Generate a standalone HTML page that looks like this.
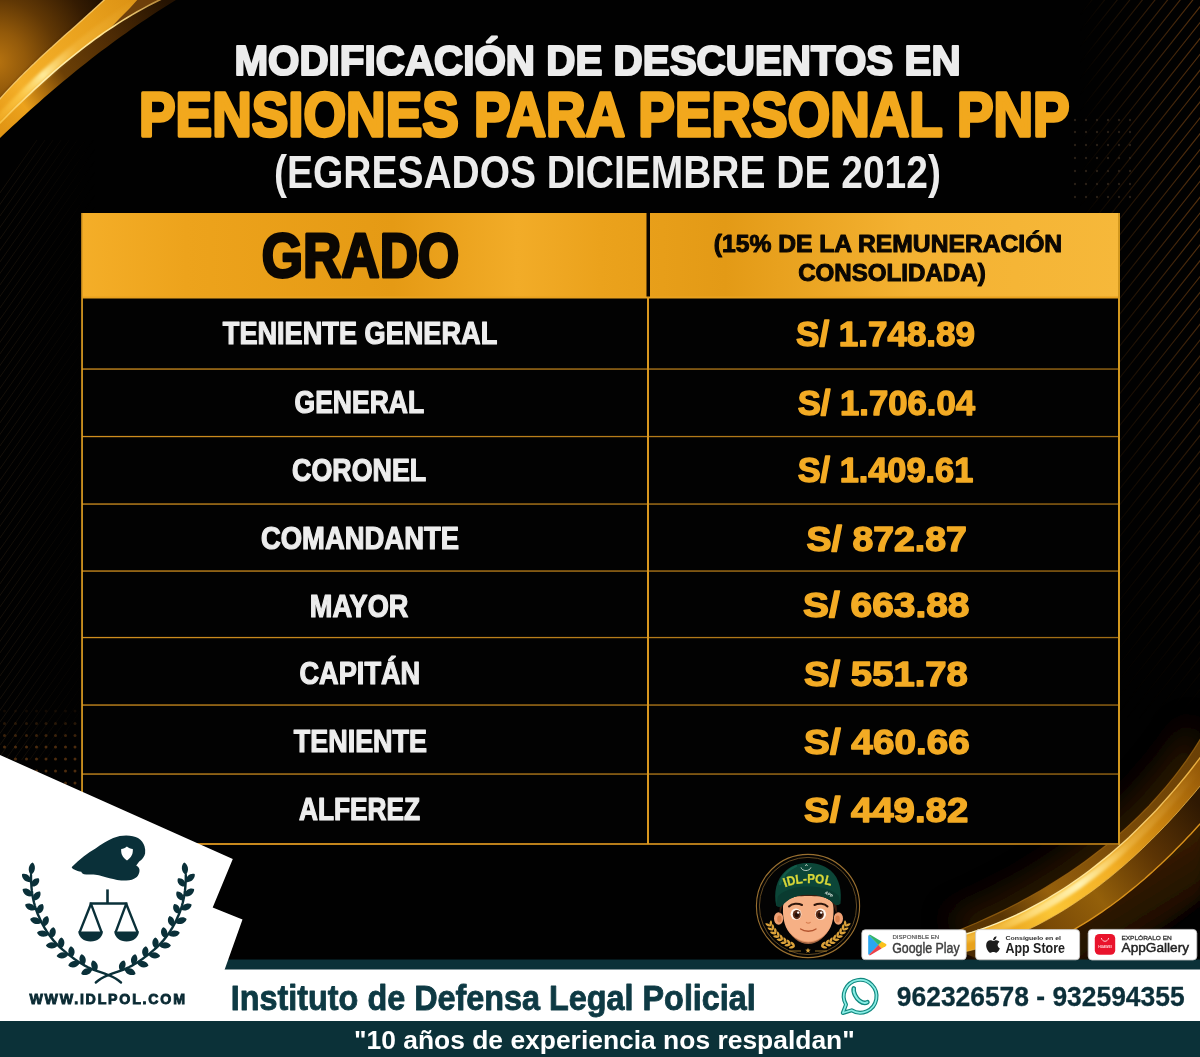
<!DOCTYPE html>
<html lang="es">
<head>
<meta charset="utf-8">
<title>Modificación de descuentos en pensiones para personal PNP</title>
<style>
html,body{margin:0;padding:0;background:#000;}
body{width:1200px;height:1057px;overflow:hidden;font-family:"Liberation Sans",sans-serif;}
svg{display:block;}
text{font-family:"Liberation Sans",sans-serif;}
.b{font-weight:bold;}
</style>
</head>
<body>
<svg width="1200" height="1057" viewBox="0 0 1200 1057">
<defs>
<linearGradient id="gtr" x1="1080" y1="0" x2="1200" y2="0" gradientUnits="userSpaceOnUse"><stop offset="0" stop-color="#000"/><stop offset="1" stop-color="#fff"/></linearGradient>
<linearGradient id="gtrv" x1="0" y1="250" x2="0" y2="720" gradientUnits="userSpaceOnUse"><stop offset="0" stop-color="#000" stop-opacity="0"/><stop offset="1" stop-color="#000" stop-opacity="1"/></linearGradient>
<mask id="mtr" maskUnits="userSpaceOnUse" x="1000" y="0" width="200" height="730"><rect x="1000" y="0" width="200" height="730" fill="url(#gtr)"/><rect x="1000" y="0" width="200" height="730" fill="url(#gtrv)"/></mask>
<linearGradient id="glf" x1="0" y1="0" x2="95" y2="0" gradientUnits="userSpaceOnUse"><stop offset="0" stop-color="#fff"/><stop offset="1" stop-color="#000"/></linearGradient>
<mask id="mlf" maskUnits="userSpaceOnUse" x="0" y="140" width="100" height="620"><rect x="0" y="140" width="100" height="620" fill="url(#glf)"/></mask>
<radialGradient id="tlc" cx="-5" cy="62" r="125" gradientUnits="userSpaceOnUse">
<stop offset="0" stop-color="#b87410"/><stop offset="0.25" stop-color="#92590a"/><stop offset="0.5" stop-color="#613805"/><stop offset="0.8" stop-color="#341b02"/><stop offset="1" stop-color="#1e0f01"/>
</radialGradient>
<linearGradient id="tlr" x1="150" y1="0" x2="0" y2="120" gradientUnits="userSpaceOnUse">
<stop offset="0" stop-color="#d98f12"/><stop offset="0.3" stop-color="#e79f1c"/><stop offset="0.6" stop-color="#f0aa24"/><stop offset="0.8" stop-color="#f4b02a"/><stop offset="1" stop-color="#e89c18"/>
</linearGradient>
<linearGradient id="tlhi" x1="150" y1="0" x2="0" y2="120" gradientUnits="userSpaceOnUse">
<stop offset="0" stop-color="#ffd870" stop-opacity="0"/><stop offset="0.45" stop-color="#ffd870" stop-opacity="0.2"/><stop offset="0.68" stop-color="#ffeea0" stop-opacity="0.95"/><stop offset="0.85" stop-color="#ffd050" stop-opacity="0.6"/><stop offset="1" stop-color="#ffc840" stop-opacity="0.3"/>
</linearGradient>
<linearGradient id="tlline" x1="160" y1="0" x2="0" y2="125" gradientUnits="userSpaceOnUse">
<stop offset="0" stop-color="#b88a3a"/><stop offset="0.25" stop-color="#ffe28c"/><stop offset="0.7" stop-color="#fff0b0"/><stop offset="1" stop-color="#f8c040"/>
</linearGradient>
<linearGradient id="tlband2" x1="170" y1="5" x2="0" y2="130" gradientUnits="userSpaceOnUse">
<stop offset="0" stop-color="#241201"/><stop offset="0.3" stop-color="#4c2a04"/><stop offset="0.6" stop-color="#6c4006"/><stop offset="0.74" stop-color="#b8760f"/><stop offset="0.84" stop-color="#eca21c"/><stop offset="1" stop-color="#e09414"/>
</linearGradient>
<linearGradient id="brmain" x1="1200" y1="770" x2="1000" y2="930" gradientUnits="userSpaceOnUse">
<stop offset="0" stop-color="#965a08"/><stop offset="0.25" stop-color="#c9820f"/><stop offset="0.5" stop-color="#f2ae24"/><stop offset="0.8" stop-color="#fbc636"/><stop offset="1" stop-color="#e8a21c"/>
</linearGradient>
<linearGradient id="brhi" x1="1200" y1="770" x2="1000" y2="930" gradientUnits="userSpaceOnUse">
<stop offset="0" stop-color="#ffe08a" stop-opacity="0"/><stop offset="0.4" stop-color="#ffe48e" stop-opacity="0.25"/><stop offset="0.65" stop-color="#fff3b4" stop-opacity="1"/><stop offset="0.85" stop-color="#ffe48e" stop-opacity="0.8"/><stop offset="1" stop-color="#ffd866" stop-opacity="0.4"/>
</linearGradient>
<linearGradient id="brline" x1="1200" y1="770" x2="1000" y2="930" gradientUnits="userSpaceOnUse">
<stop offset="0" stop-color="#e9ae3e"/><stop offset="0.5" stop-color="#ffe08a"/><stop offset="1" stop-color="#fff0b0"/>
</linearGradient>
<linearGradient id="brfaint" x1="1200" y1="750" x2="1000" y2="915" gradientUnits="userSpaceOnUse">
<stop offset="0" stop-color="#6a4006"/><stop offset="0.5" stop-color="#7c4c08"/><stop offset="0.8" stop-color="#96600c"/><stop offset="1" stop-color="#5a3604"/>
</linearGradient>
<linearGradient id="brdark" x1="1200" y1="805" x2="1020" y2="945" gradientUnits="userSpaceOnUse">
<stop offset="0" stop-color="#2e1802"/><stop offset="0.3" stop-color="#5c3404"/><stop offset="0.6" stop-color="#94600a"/><stop offset="0.85" stop-color="#7a4a06"/><stop offset="1" stop-color="#4a2a03"/>
</linearGradient>
<linearGradient id="brglow" x1="1100" y1="880" x2="1150" y2="960" gradientUnits="userSpaceOnUse">
<stop offset="0" stop-color="#3a1e02"/><stop offset="1" stop-color="#120800"/>
</linearGradient>
<filter id="bl2" x="-20%" y="-20%" width="140%" height="140%"><feGaussianBlur stdDeviation="1.5"/></filter>
<filter id="bl6" x="-30%" y="-30%" width="160%" height="160%"><feGaussianBlur stdDeviation="6"/></filter>
<filter id="bl12" x="-30%" y="-30%" width="160%" height="160%"><feGaussianBlur stdDeviation="14"/></filter>
<linearGradient id="hdr" x1="0" x2="1" y1="0" y2="0">
<stop offset="0" stop-color="#f4ae28"/><stop offset="0.1" stop-color="#eda31c"/><stop offset="0.3" stop-color="#e59a14"/><stop offset="0.42" stop-color="#f2ac28"/><stop offset="0.5" stop-color="#eba21c"/><stop offset="0.62" stop-color="#e39a16"/><stop offset="0.8" stop-color="#f4b232"/><stop offset="1" stop-color="#f6b83a"/>
</linearGradient>
<linearGradient id="ln" x1="0" x2="1" y1="0" y2="0">
<stop offset="0" stop-color="#d08e1e"/><stop offset="0.5" stop-color="#b67c1a"/><stop offset="1" stop-color="#a06c14"/>
</linearGradient>
</defs>
<rect width="1200" height="1057" fill="#010101"/>
<g id="bg">
<path d="M500.0,730 L1087.3,-10 M512.6,730 L1099.9,-10 M525.2,730 L1112.5,-10 M537.8,730 L1125.1,-10 M550.4,730 L1137.7,-10 M563.0,730 L1150.3,-10 M575.6,730 L1162.9,-10 M588.2,730 L1175.5,-10 M600.8,730 L1188.1,-10 M613.4,730 L1200.7,-10 M626.0,730 L1213.3,-10 M638.6,730 L1225.9,-10 M651.2,730 L1238.5,-10 M663.8,730 L1251.1,-10 M676.4,730 L1263.7,-10 M689.0,730 L1276.3,-10 M701.6,730 L1288.9,-10 M714.2,730 L1301.5,-10 M726.8,730 L1314.1,-10 M739.4,730 L1326.7,-10 M752.0,730 L1339.3,-10 M764.6,730 L1351.9,-10 M777.2,730 L1364.5,-10 M789.8,730 L1377.1,-10 M802.4,730 L1389.7,-10 M815.0,730 L1402.3,-10 M827.6,730 L1414.9,-10 M840.2,730 L1427.5,-10 M852.8,730 L1440.1,-10 M865.4,730 L1452.7,-10 M878.0,730 L1465.3,-10 M890.6,730 L1477.9,-10 M903.2,730 L1490.5,-10 M915.8,730 L1503.1,-10 M928.4,730 L1515.7,-10 M941.0,730 L1528.3,-10 M953.6,730 L1540.9,-10 M966.2,730 L1553.5,-10 M978.8,730 L1566.1,-10 M991.4,730 L1578.7,-10 M1004.0,730 L1591.3,-10 M1016.6,730 L1603.9,-10 M1029.2,730 L1616.5,-10 M1041.8,730 L1629.1,-10 M1054.4,730 L1641.7,-10 M1067.0,730 L1654.3,-10 M1079.6,730 L1666.9,-10 M1092.2,730 L1679.5,-10 M1104.8,730 L1692.1,-10 M1117.4,730 L1704.7,-10 M1130.0,730 L1717.3,-10 M1142.6,730 L1729.9,-10 M1155.2,730 L1742.5,-10 M1167.8,730 L1755.1,-10 M1180.4,730 L1767.7,-10 M1193.0,730 L1780.3,-10 M1205.6,730 L1792.9,-10 M1218.2,730 L1805.5,-10 M1230.8,730 L1818.1,-10 M1243.4,730 L1830.7,-10 M1256.0,730 L1843.3,-10 M1268.6,730 L1855.9,-10 M1281.2,730 L1868.5,-10 M1293.8,730 L1881.1,-10 M1306.4,730 L1893.7,-10 M1319.0,730 L1906.3,-10 M1331.6,730 L1918.9,-10 M1344.2,730 L1931.5,-10 M1356.8,730 L1944.1,-10 M1369.4,730 L1956.7,-10 M1382.0,730 L1969.3,-10 M1394.6,730 L1981.9,-10 M1407.2,730 L1994.5,-10 M1419.8,730 L2007.1,-10 " stroke="#54300e" stroke-width="1.2" fill="none" mask="url(#mtr)"/>
<path d="M-5,200.0 L100,50.0 M-5,211.5 L100,61.5 M-5,223.0 L100,73.0 M-5,234.5 L100,84.5 M-5,246.0 L100,96.0 M-5,257.5 L100,107.5 M-5,269.0 L100,119.0 M-5,280.5 L100,130.5 M-5,292.0 L100,142.0 M-5,303.5 L100,153.5 M-5,315.0 L100,165.0 M-5,326.5 L100,176.5 M-5,338.0 L100,188.0 M-5,349.5 L100,199.5 M-5,361.0 L100,211.0 M-5,372.5 L100,222.5 M-5,384.0 L100,234.0 M-5,395.5 L100,245.5 M-5,407.0 L100,257.0 M-5,418.5 L100,268.5 M-5,430.0 L100,280.0 M-5,441.5 L100,291.5 M-5,453.0 L100,303.0 M-5,464.5 L100,314.5 M-5,476.0 L100,326.0 M-5,487.5 L100,337.5 M-5,499.0 L100,349.0 M-5,510.5 L100,360.5 M-5,522.0 L100,372.0 M-5,533.5 L100,383.5 M-5,545.0 L100,395.0 M-5,556.5 L100,406.5 M-5,568.0 L100,418.0 M-5,579.5 L100,429.5 M-5,591.0 L100,441.0 M-5,602.5 L100,452.5 M-5,614.0 L100,464.0 M-5,625.5 L100,475.5 M-5,637.0 L100,487.0 M-5,648.5 L100,498.5 M-5,660.0 L100,510.0 M-5,671.5 L100,521.5 M-5,683.0 L100,533.0 M-5,694.5 L100,544.5 M-5,706.0 L100,556.0 M-5,717.5 L100,567.5 M-5,729.0 L100,579.0 M-5,740.5 L100,590.5 M-5,752.0 L100,602.0 M-5,763.5 L100,613.5 M-5,775.0 L100,625.0 M-5,786.5 L100,636.5 M-5,798.0 L100,648.0 M-5,809.5 L100,659.5 M-5,821.0 L100,671.0 M-5,832.5 L100,682.5 " stroke="#17110a" stroke-width="1" fill="none" mask="url(#mlf)"/>
<circle cx="4.5" cy="711.0" r="1.5" fill="#5a3410" opacity="0.20"/><circle cx="15.5" cy="711.0" r="1.5" fill="#5a3410" opacity="0.20"/><circle cx="26.5" cy="711.0" r="1.5" fill="#5a3410" opacity="0.20"/><circle cx="36.5" cy="711.0" r="1.5" fill="#5a3410" opacity="0.20"/><circle cx="46.0" cy="711.0" r="1.5" fill="#5a3410" opacity="0.20"/><circle cx="55.5" cy="711.0" r="1.5" fill="#5a3410" opacity="0.20"/><circle cx="65.5" cy="711.0" r="1.5" fill="#5a3410" opacity="0.20"/><circle cx="75.0" cy="711.0" r="1.5" fill="#5a3410" opacity="0.20"/><circle cx="4.5" cy="723.5" r="1.5" fill="#5a3410" opacity="0.42"/><circle cx="15.5" cy="723.5" r="1.5" fill="#5a3410" opacity="0.42"/><circle cx="26.5" cy="723.5" r="1.5" fill="#5a3410" opacity="0.42"/><circle cx="36.5" cy="723.5" r="1.5" fill="#5a3410" opacity="0.42"/><circle cx="46.0" cy="723.5" r="1.5" fill="#5a3410" opacity="0.42"/><circle cx="55.5" cy="723.5" r="1.5" fill="#5a3410" opacity="0.42"/><circle cx="65.5" cy="723.5" r="1.5" fill="#5a3410" opacity="0.42"/><circle cx="75.0" cy="723.5" r="1.5" fill="#5a3410" opacity="0.42"/><circle cx="4.5" cy="735.5" r="1.5" fill="#5a3410" opacity="0.64"/><circle cx="15.5" cy="735.5" r="1.5" fill="#5a3410" opacity="0.64"/><circle cx="26.5" cy="735.5" r="1.5" fill="#5a3410" opacity="0.64"/><circle cx="36.5" cy="735.5" r="1.5" fill="#5a3410" opacity="0.64"/><circle cx="46.0" cy="735.5" r="1.5" fill="#5a3410" opacity="0.64"/><circle cx="55.5" cy="735.5" r="1.5" fill="#5a3410" opacity="0.64"/><circle cx="65.5" cy="735.5" r="1.5" fill="#5a3410" opacity="0.64"/><circle cx="75.0" cy="735.5" r="1.5" fill="#5a3410" opacity="0.64"/><circle cx="4.5" cy="747.0" r="1.5" fill="#5a3410" opacity="0.85"/><circle cx="15.5" cy="747.0" r="1.5" fill="#5a3410" opacity="0.85"/><circle cx="26.5" cy="747.0" r="1.5" fill="#5a3410" opacity="0.85"/><circle cx="36.5" cy="747.0" r="1.5" fill="#5a3410" opacity="0.85"/><circle cx="46.0" cy="747.0" r="1.5" fill="#5a3410" opacity="0.85"/><circle cx="55.5" cy="747.0" r="1.5" fill="#5a3410" opacity="0.85"/><circle cx="65.5" cy="747.0" r="1.5" fill="#5a3410" opacity="0.85"/><circle cx="75.0" cy="747.0" r="1.5" fill="#5a3410" opacity="0.85"/><circle cx="4.5" cy="759.0" r="1.5" fill="#5a3410" opacity="0.85"/><circle cx="15.5" cy="759.0" r="1.5" fill="#5a3410" opacity="0.85"/><circle cx="26.5" cy="759.0" r="1.5" fill="#5a3410" opacity="0.85"/><circle cx="36.5" cy="759.0" r="1.5" fill="#5a3410" opacity="0.85"/><circle cx="46.0" cy="759.0" r="1.5" fill="#5a3410" opacity="0.85"/><circle cx="55.5" cy="759.0" r="1.5" fill="#5a3410" opacity="0.85"/><circle cx="65.5" cy="759.0" r="1.5" fill="#5a3410" opacity="0.85"/><circle cx="75.0" cy="759.0" r="1.5" fill="#5a3410" opacity="0.85"/><circle cx="4.5" cy="771.0" r="1.5" fill="#5a3410" opacity="0.85"/><circle cx="15.5" cy="771.0" r="1.5" fill="#5a3410" opacity="0.85"/><circle cx="26.5" cy="771.0" r="1.5" fill="#5a3410" opacity="0.85"/><circle cx="36.5" cy="771.0" r="1.5" fill="#5a3410" opacity="0.85"/><circle cx="46.0" cy="771.0" r="1.5" fill="#5a3410" opacity="0.85"/><circle cx="55.5" cy="771.0" r="1.5" fill="#5a3410" opacity="0.85"/><circle cx="65.5" cy="771.0" r="1.5" fill="#5a3410" opacity="0.85"/><circle cx="75.0" cy="771.0" r="1.5" fill="#5a3410" opacity="0.85"/><circle cx="4.5" cy="783.0" r="1.5" fill="#5a3410" opacity="0.85"/><circle cx="15.5" cy="783.0" r="1.5" fill="#5a3410" opacity="0.85"/><circle cx="26.5" cy="783.0" r="1.5" fill="#5a3410" opacity="0.85"/><circle cx="36.5" cy="783.0" r="1.5" fill="#5a3410" opacity="0.85"/><circle cx="46.0" cy="783.0" r="1.5" fill="#5a3410" opacity="0.85"/><circle cx="55.5" cy="783.0" r="1.5" fill="#5a3410" opacity="0.85"/><circle cx="65.5" cy="783.0" r="1.5" fill="#5a3410" opacity="0.85"/><circle cx="75.0" cy="783.0" r="1.5" fill="#5a3410" opacity="0.85"/><circle cx="4.5" cy="795.0" r="1.5" fill="#5a3410" opacity="0.85"/><circle cx="15.5" cy="795.0" r="1.5" fill="#5a3410" opacity="0.85"/><circle cx="26.5" cy="795.0" r="1.5" fill="#5a3410" opacity="0.85"/><circle cx="36.5" cy="795.0" r="1.5" fill="#5a3410" opacity="0.85"/><circle cx="46.0" cy="795.0" r="1.5" fill="#5a3410" opacity="0.85"/><circle cx="55.5" cy="795.0" r="1.5" fill="#5a3410" opacity="0.85"/><circle cx="65.5" cy="795.0" r="1.5" fill="#5a3410" opacity="0.85"/><circle cx="75.0" cy="795.0" r="1.5" fill="#5a3410" opacity="0.85"/><circle cx="4.5" cy="807.0" r="1.5" fill="#5a3410" opacity="0.85"/><circle cx="15.5" cy="807.0" r="1.5" fill="#5a3410" opacity="0.85"/><circle cx="26.5" cy="807.0" r="1.5" fill="#5a3410" opacity="0.85"/><circle cx="36.5" cy="807.0" r="1.5" fill="#5a3410" opacity="0.85"/><circle cx="46.0" cy="807.0" r="1.5" fill="#5a3410" opacity="0.85"/><circle cx="55.5" cy="807.0" r="1.5" fill="#5a3410" opacity="0.85"/><circle cx="65.5" cy="807.0" r="1.5" fill="#5a3410" opacity="0.85"/><circle cx="75.0" cy="807.0" r="1.5" fill="#5a3410" opacity="0.85"/><circle cx="4.5" cy="819.0" r="1.5" fill="#5a3410" opacity="0.85"/><circle cx="15.5" cy="819.0" r="1.5" fill="#5a3410" opacity="0.85"/><circle cx="26.5" cy="819.0" r="1.5" fill="#5a3410" opacity="0.85"/><circle cx="36.5" cy="819.0" r="1.5" fill="#5a3410" opacity="0.85"/><circle cx="46.0" cy="819.0" r="1.5" fill="#5a3410" opacity="0.85"/><circle cx="55.5" cy="819.0" r="1.5" fill="#5a3410" opacity="0.85"/><circle cx="65.5" cy="819.0" r="1.5" fill="#5a3410" opacity="0.85"/><circle cx="75.0" cy="819.0" r="1.5" fill="#5a3410" opacity="0.85"/><circle cx="4.5" cy="831.0" r="1.5" fill="#5a3410" opacity="0.85"/><circle cx="15.5" cy="831.0" r="1.5" fill="#5a3410" opacity="0.85"/><circle cx="26.5" cy="831.0" r="1.5" fill="#5a3410" opacity="0.85"/><circle cx="36.5" cy="831.0" r="1.5" fill="#5a3410" opacity="0.85"/><circle cx="46.0" cy="831.0" r="1.5" fill="#5a3410" opacity="0.85"/><circle cx="55.5" cy="831.0" r="1.5" fill="#5a3410" opacity="0.85"/><circle cx="65.5" cy="831.0" r="1.5" fill="#5a3410" opacity="0.85"/><circle cx="75.0" cy="831.0" r="1.5" fill="#5a3410" opacity="0.85"/>
<circle cx="1075.0" cy="120.0" r="1.2" fill="#2c2218" opacity="0.90"/><circle cx="1086.0" cy="120.0" r="1.2" fill="#2c2218" opacity="0.90"/><circle cx="1097.0" cy="120.0" r="1.2" fill="#2c2218" opacity="0.90"/><circle cx="1108.0" cy="120.0" r="1.2" fill="#2c2218" opacity="0.90"/><circle cx="1119.0" cy="120.0" r="1.2" fill="#2c2218" opacity="0.90"/><circle cx="1130.0" cy="120.0" r="1.2" fill="#2c2218" opacity="0.90"/><circle cx="1075.0" cy="132.0" r="1.2" fill="#2c2218" opacity="0.90"/><circle cx="1086.0" cy="132.0" r="1.2" fill="#2c2218" opacity="0.90"/><circle cx="1097.0" cy="132.0" r="1.2" fill="#2c2218" opacity="0.90"/><circle cx="1108.0" cy="132.0" r="1.2" fill="#2c2218" opacity="0.90"/><circle cx="1119.0" cy="132.0" r="1.2" fill="#2c2218" opacity="0.90"/><circle cx="1130.0" cy="132.0" r="1.2" fill="#2c2218" opacity="0.90"/><circle cx="1075.0" cy="145.0" r="1.2" fill="#2c2218" opacity="0.90"/><circle cx="1086.0" cy="145.0" r="1.2" fill="#2c2218" opacity="0.90"/><circle cx="1097.0" cy="145.0" r="1.2" fill="#2c2218" opacity="0.90"/><circle cx="1108.0" cy="145.0" r="1.2" fill="#2c2218" opacity="0.90"/><circle cx="1119.0" cy="145.0" r="1.2" fill="#2c2218" opacity="0.90"/><circle cx="1130.0" cy="145.0" r="1.2" fill="#2c2218" opacity="0.90"/><circle cx="1075.0" cy="158.0" r="1.2" fill="#2c2218" opacity="0.90"/><circle cx="1086.0" cy="158.0" r="1.2" fill="#2c2218" opacity="0.90"/><circle cx="1097.0" cy="158.0" r="1.2" fill="#2c2218" opacity="0.90"/><circle cx="1108.0" cy="158.0" r="1.2" fill="#2c2218" opacity="0.90"/><circle cx="1119.0" cy="158.0" r="1.2" fill="#2c2218" opacity="0.90"/><circle cx="1130.0" cy="158.0" r="1.2" fill="#2c2218" opacity="0.90"/><circle cx="1075.0" cy="171.0" r="1.2" fill="#2c2218" opacity="0.90"/><circle cx="1086.0" cy="171.0" r="1.2" fill="#2c2218" opacity="0.90"/><circle cx="1097.0" cy="171.0" r="1.2" fill="#2c2218" opacity="0.90"/><circle cx="1108.0" cy="171.0" r="1.2" fill="#2c2218" opacity="0.90"/><circle cx="1119.0" cy="171.0" r="1.2" fill="#2c2218" opacity="0.90"/><circle cx="1130.0" cy="171.0" r="1.2" fill="#2c2218" opacity="0.90"/><circle cx="1075.0" cy="184.0" r="1.2" fill="#2c2218" opacity="0.90"/><circle cx="1086.0" cy="184.0" r="1.2" fill="#2c2218" opacity="0.90"/><circle cx="1097.0" cy="184.0" r="1.2" fill="#2c2218" opacity="0.90"/><circle cx="1108.0" cy="184.0" r="1.2" fill="#2c2218" opacity="0.90"/><circle cx="1119.0" cy="184.0" r="1.2" fill="#2c2218" opacity="0.90"/><circle cx="1130.0" cy="184.0" r="1.2" fill="#2c2218" opacity="0.90"/><circle cx="1075.0" cy="197.0" r="1.2" fill="#2c2218" opacity="0.90"/><circle cx="1086.0" cy="197.0" r="1.2" fill="#2c2218" opacity="0.90"/><circle cx="1097.0" cy="197.0" r="1.2" fill="#2c2218" opacity="0.90"/><circle cx="1108.0" cy="197.0" r="1.2" fill="#2c2218" opacity="0.90"/><circle cx="1119.0" cy="197.0" r="1.2" fill="#2c2218" opacity="0.90"/><circle cx="1130.0" cy="197.0" r="1.2" fill="#2c2218" opacity="0.90"/>
<path d="M-5,-5 L112,-5 L109.9,-5.4 L106.9,-2.6 L103.9,0.2 L100.9,3.0 L97.9,5.7 L94.9,8.5 L91.9,11.3 L88.8,14.0 L85.8,16.7 L82.8,19.5 L79.7,22.2 L76.7,24.9 L73.6,27.7 L70.5,30.4 L67.5,33.1 L64.4,35.8 L61.4,38.6 L58.3,41.3 L55.3,44.0 L52.3,46.8 L49.2,49.5 L46.2,52.3 L43.2,55.1 L40.2,57.8 L37.2,60.6 L34.3,63.5 L31.3,66.3 L28.4,69.1 L25.4,72.0 L22.5,74.9 L19.6,77.7 L16.8,80.7 L13.9,83.6 L11.1,86.6 L8.3,89.6 L5.5,92.6 L2.8,95.6 L0.1,98.7 L-2.6,101.8 L-5.3,104.9 L-5,105 Z" fill="url(#tlc)"/>
<path d="M109.9,-5.4 L106.9,-2.6 L103.9,0.2 L100.9,3.0 L97.9,5.7 L94.9,8.5 L91.9,11.3 L88.8,14.0 L85.8,16.7 L82.8,19.5 L79.7,22.2 L76.7,24.9 L73.6,27.7 L70.5,30.4 L67.5,33.1 L64.4,35.8 L61.4,38.6 L58.3,41.3 L55.3,44.0 L52.3,46.8 L49.2,49.5 L46.2,52.3 L43.2,55.1 L40.2,57.8 L37.2,60.6 L34.3,63.5 L31.3,66.3 L28.4,69.1 L25.4,72.0 L22.5,74.9 L19.6,77.7 L16.8,80.7 L13.9,83.6 L11.1,86.6 L8.3,89.6 L5.5,92.6 L2.8,95.6 L0.1,98.7 L-2.6,101.8 L-5.3,104.9 L1.7,111.9 L4.4,108.8 L7.1,105.7 L9.8,102.6 L12.5,99.6 L15.3,96.6 L18.1,93.6 L20.9,90.6 L23.8,87.7 L26.6,84.7 L29.5,81.9 L32.4,79.0 L35.4,76.1 L38.3,73.3 L41.3,70.5 L44.2,67.6 L47.2,64.8 L50.2,62.1 L53.2,59.3 L56.2,56.5 L59.3,53.8 L62.3,51.0 L65.3,48.3 L68.4,45.6 L71.4,42.8 L74.5,40.1 L77.5,37.4 L80.6,34.7 L83.7,31.9 L86.7,29.2 L89.8,26.5 L92.8,23.7 L95.8,21.0 L98.9,18.3 L101.9,15.5 L104.9,12.7 L107.9,10.0 L110.9,7.2 L113.9,4.4 L116.9,1.6Z" fill="#2a1400" opacity="0.55" filter="url(#bl2)"/>
<path d="M167.2,-3.6 L162.1,-1.2 L157.0,1.3 L152.0,3.8 L147.0,6.4 L142.1,9.1 L137.2,11.8 L132.3,14.6 L127.5,17.5 L122.7,20.4 L118.0,23.4 L113.3,26.5 L108.6,29.6 L104.0,32.7 L99.4,36.0 L94.9,39.2 L90.4,42.5 L85.9,45.9 L81.4,49.3 L77.0,52.8 L72.6,56.3 L68.2,59.8 L63.9,63.4 L59.6,67.0 L55.3,70.7 L51.1,74.4 L46.9,78.1 L42.7,81.8 L38.6,85.6 L34.4,89.4 L30.3,93.3 L26.2,97.1 L22.2,101.0 L18.1,104.9 L14.1,108.8 L10.1,112.8 L6.2,116.7 L2.2,120.7 L-1.7,124.7 L-5.6,128.6 L-5.7,143.5 L-1.3,139.3 L3.1,135.0 L7.6,130.8 L12.1,126.6 L16.6,122.5 L21.1,118.3 L25.6,114.2 L30.2,110.0 L34.8,105.9 L39.4,101.9 L44.0,97.8 L48.7,93.8 L53.4,89.8 L58.1,85.8 L62.8,81.8 L67.5,77.9 L72.3,74.0 L77.1,70.1 L81.9,66.2 L86.7,62.4 L91.6,58.6 L96.4,54.8 L101.3,51.1 L106.3,47.4 L111.2,43.7 L116.2,40.1 L121.1,36.4 L126.2,32.9 L131.2,29.3 L136.2,25.8 L141.3,22.3 L146.4,18.9 L151.5,15.5 L156.7,12.1 L161.9,8.7 L167.1,5.4 L172.3,2.2 L177.5,-1.0 L182.8,-4.2Z" fill="url(#tlband2)" />
<path d="M109.9,-5.4 L106.9,-2.6 L103.9,0.2 L100.9,3.0 L97.9,5.7 L94.9,8.5 L91.9,11.3 L88.8,14.0 L85.8,16.7 L82.8,19.5 L79.7,22.2 L76.7,24.9 L73.6,27.7 L70.5,30.4 L67.5,33.1 L64.4,35.8 L61.4,38.6 L58.3,41.3 L55.3,44.0 L52.3,46.8 L49.2,49.5 L46.2,52.3 L43.2,55.1 L40.2,57.8 L37.2,60.6 L34.3,63.5 L31.3,66.3 L28.4,69.1 L25.4,72.0 L22.5,74.9 L19.6,77.7 L16.8,80.7 L13.9,83.6 L11.1,86.6 L8.3,89.6 L5.5,92.6 L2.8,95.6 L0.1,98.7 L-2.6,101.8 L-5.3,104.9 L-5.6,128.6 L-1.7,124.7 L2.2,120.7 L6.2,116.7 L10.1,112.8 L14.1,108.8 L18.1,104.9 L22.2,101.0 L26.2,97.1 L30.3,93.3 L34.4,89.4 L38.6,85.6 L42.7,81.8 L46.9,78.1 L51.1,74.4 L55.3,70.7 L59.6,67.0 L63.9,63.4 L68.2,59.8 L72.6,56.3 L77.0,52.8 L81.4,49.3 L85.9,45.9 L90.4,42.5 L94.9,39.2 L99.4,36.0 L104.0,32.7 L108.6,29.6 L113.3,26.5 L118.0,23.4 L122.7,20.4 L127.5,17.5 L132.3,14.6 L137.2,11.8 L142.1,9.1 L147.0,6.4 L152.0,3.8 L157.0,1.3 L162.1,-1.2 L167.2,-3.6Z" fill="url(#tlr)" />
<path d="M141.4,-4.4 L137.2,-1.8 L133.1,0.8 L129.0,3.4 L124.9,6.1 L120.9,8.8 L116.8,11.6 L112.8,14.4 L108.7,17.2 L104.7,20.0 L100.8,22.9 L96.8,25.8 L92.9,28.7 L89.0,31.7 L85.1,34.7 L81.2,37.7 L77.3,40.8 L73.5,43.8 L69.7,46.9 L65.9,50.1 L62.1,53.2 L58.3,56.4 L54.6,59.7 L50.9,62.9 L47.2,66.2 L43.5,69.5 L39.9,72.8 L36.3,76.1 L32.6,79.5 L29.1,82.9 L25.5,86.3 L22.0,89.7 L18.5,93.2 L15.0,96.7 L11.5,100.2 L8.1,103.7 L4.6,107.2 L1.2,110.8 L-2.1,114.4 L-5.5,118.0 L-5.6,127.9 L-1.7,124.0 L2.2,120.0 L6.1,116.1 L10.0,112.2 L14.0,108.2 L17.9,104.4 L21.9,100.5 L25.9,96.6 L30.0,92.8 L34.1,89.0 L38.2,85.2 L42.3,81.5 L46.4,77.7 L50.6,74.0 L54.8,70.4 L59.0,66.7 L63.3,63.2 L67.6,59.6 L71.9,56.1 L76.2,52.6 L80.6,49.2 L85.0,45.8 L89.5,42.4 L94.0,39.1 L98.5,35.9 L103.0,32.7 L107.6,29.5 L112.2,26.4 L116.9,23.4 L121.5,20.4 L126.3,17.5 L131.0,14.6 L135.8,11.8 L140.7,9.1 L145.5,6.4 L150.5,3.8 L155.4,1.2 L160.4,-1.2 L165.5,-3.6Z" fill="url(#tlhi)" filter="url(#bl2)"/>
<path d="M139.0,-2.0 L130.0,8.0 L120.0,18.0 L110.0,28.5 L125.0,19.0 L140.0,10.0 L160.0,0.0 L164.0,-2.0 Z" fill="#5a3008" opacity="0.85"/>
<path d="M109.9,-5.4 L106.9,-2.6 L103.9,0.2 L100.9,3.0 L97.9,5.7 L94.9,8.5 L91.9,11.3 L88.8,14.0 L85.8,16.7 L82.8,19.5 L79.7,22.2 L76.7,24.9 L73.6,27.7 L70.5,30.4 L67.5,33.1 L64.4,35.8 L61.4,38.6 L58.3,41.3 L55.3,44.0 L52.3,46.8 L49.2,49.5 L46.2,52.3 L43.2,55.1 L40.2,57.8 L37.2,60.6 L34.3,63.5 L31.3,66.3 L28.4,69.1 L25.4,72.0 L22.5,74.9 L19.6,77.7 L16.8,80.7 L13.9,83.6 L11.1,86.6 L8.3,89.6 L5.5,92.6 L2.8,95.6 L0.1,98.7 L-2.6,101.8 L-5.3,104.9" fill="none" stroke="#ffd474" stroke-width="1.3" opacity="0.85"/>
<path d="M167.2,-3.6 L162.1,-1.2 L157.0,1.3 L152.0,3.8 L147.0,6.4 L142.1,9.1 L137.2,11.8 L132.3,14.6 L127.5,17.5 L122.7,20.4 L118.0,23.4 L113.3,26.5 L108.6,29.6 L104.0,32.7 L99.4,36.0 L94.9,39.2 L90.4,42.5 L85.9,45.9 L81.4,49.3 L77.0,52.8 L72.6,56.3 L68.2,59.8 L63.9,63.4 L59.6,67.0 L55.3,70.7 L51.1,74.4 L46.9,78.1 L42.7,81.8 L38.6,85.6 L34.4,89.4 L30.3,93.3 L26.2,97.1 L22.2,101.0 L18.1,104.9 L14.1,108.8 L10.1,112.8 L6.2,116.7 L2.2,120.7 L-1.7,124.7 L-5.6,128.6" fill="none" stroke="url(#tlline)" stroke-width="1.6" />
<path d="M1190.3,718.6 L1186.9,724.3 L1183.4,729.9 L1179.9,735.4 L1176.2,740.9 L1172.5,746.3 L1168.6,751.6 L1164.7,756.9 L1160.7,762.1 L1156.6,767.2 L1152.4,772.3 L1148.2,777.2 L1143.8,782.2 L1139.4,787.0 L1135.0,791.8 L1130.4,796.5 L1125.8,801.1 L1121.1,805.7 L1116.3,810.2 L1111.5,814.6 L1106.6,819.0 L1101.6,823.3 L1096.6,827.5 L1091.6,831.7 L1086.4,835.8 L1081.2,839.8 L1076.0,843.8 L1070.7,847.7 L1065.4,851.5 L1060.0,855.3 L1054.5,859.0 L1049.0,862.6 L1043.5,866.1 L1037.9,869.6 L1032.3,873.1 L1026.6,876.4 L1020.9,879.7 L1015.2,882.9 L1009.5,886.1 L1003.7,889.2 L997.8,892.2 L992.0,895.2 L986.1,898.1 L980.2,900.9 L974.2,903.6 L968.3,906.3 L962.3,909.0 L956.3,911.5 L950.3,914.0 L944.3,916.5 L1008.2,981.4 L1013.4,980.1 L1018.6,978.7 L1023.8,977.2 L1029.0,975.6 L1034.1,973.9 L1039.1,972.1 L1044.2,970.3 L1049.2,968.3 L1054.1,966.3 L1059.1,964.2 L1064.0,962.0 L1068.8,959.7 L1073.7,957.3 L1078.5,954.9 L1083.2,952.4 L1087.9,949.8 L1092.6,947.2 L1097.3,944.4 L1101.9,941.7 L1106.4,938.8 L1111.0,935.9 L1115.5,932.9 L1120.0,929.9 L1124.4,926.8 L1128.8,923.7 L1133.1,920.5 L1137.5,917.2 L1141.8,913.9 L1146.0,910.5 L1150.2,907.1 L1154.4,903.7 L1158.5,900.2 L1162.7,896.7 L1166.7,893.1 L1170.8,889.5 L1174.8,885.8 L1178.7,882.2 L1182.6,878.4 L1186.5,874.7 L1190.4,870.9 L1194.2,867.1 L1198.0,863.3 L1201.7,859.4 L1205.4,855.6 L1209.1,851.7 L1212.7,847.7 L1216.3,843.8 L1219.9,839.9 L1223.4,835.9Z" fill="#2a1602" filter="url(#bl12)" opacity="0.9"/>
<path d="M1205.0,780.0 L1201.2,784.7 L1197.3,789.5 L1193.4,794.2 L1189.4,798.8 L1185.3,803.5 L1181.3,808.1 L1177.2,812.8 L1173.0,817.3 L1168.8,821.9 L1164.5,826.4 L1160.2,830.9 L1155.9,835.3 L1151.5,839.7 L1147.0,844.1 L1142.6,848.4 L1138.0,852.7 L1133.5,856.9 L1128.8,861.1 L1124.2,865.2 L1119.4,869.3 L1114.7,873.3 L1109.9,877.3 L1105.0,881.1 L1100.1,885.0 L1095.2,888.7 L1090.2,892.4 L1085.1,896.0 L1080.0,899.5 L1074.9,903.0 L1069.7,906.4 L1064.5,909.7 L1059.2,912.9 L1053.9,916.0 L1048.5,919.1 L1043.1,922.0 L1037.6,924.9 L1032.1,927.6 L1026.5,930.3 L1020.9,932.8 L1015.2,935.3 L1009.5,937.7 L1003.7,939.9 L997.9,942.0 L992.1,944.1 L986.2,946.0 L980.2,947.8 L974.2,949.5 L968.1,951.0 L962.0,952.4 L1000.0,975.0 L1004.7,975.1 L1009.4,975.2 L1014.0,975.2 L1018.7,975.1 L1023.3,974.9 L1028.0,974.7 L1032.6,974.3 L1037.2,973.8 L1041.8,973.3 L1046.4,972.6 L1050.9,971.9 L1055.5,971.1 L1060.0,970.2 L1064.5,969.3 L1069.0,968.2 L1073.4,967.1 L1077.9,965.9 L1082.3,964.6 L1086.7,963.2 L1091.0,961.8 L1095.4,960.3 L1099.7,958.8 L1104.0,957.1 L1108.3,955.4 L1112.6,953.7 L1116.8,951.8 L1121.0,949.9 L1125.2,948.0 L1129.4,945.9 L1133.5,943.9 L1137.6,941.7 L1141.7,939.5 L1145.7,937.3 L1149.7,935.0 L1153.7,932.6 L1157.7,930.2 L1161.6,927.8 L1165.5,925.3 L1169.4,922.7 L1173.2,920.2 L1177.0,917.5 L1180.8,914.8 L1184.5,912.1 L1188.2,909.4 L1191.9,906.6 L1195.5,903.7 L1199.1,900.9 L1202.7,898.0 L1206.2,895.0Z" fill="url(#brglow)" filter="url(#bl6)"/>
<path d="M1204.3,732.6 L1200.9,738.3 L1197.4,743.9 L1193.9,749.4 L1190.2,754.9 L1186.5,760.3 L1182.6,765.6 L1178.7,770.9 L1174.7,776.1 L1170.6,781.2 L1166.4,786.3 L1162.2,791.2 L1157.8,796.2 L1153.4,801.0 L1149.0,805.8 L1144.4,810.5 L1139.8,815.1 L1135.1,819.7 L1130.3,824.2 L1125.5,828.6 L1120.6,833.0 L1115.6,837.3 L1110.6,841.5 L1105.6,845.7 L1100.4,849.8 L1095.2,853.8 L1090.0,857.8 L1084.7,861.7 L1079.4,865.5 L1074.0,869.3 L1068.5,873.0 L1063.0,876.6 L1057.5,880.1 L1051.9,883.6 L1046.3,887.1 L1040.6,890.4 L1034.9,893.7 L1029.2,896.9 L1023.5,900.1 L1017.7,903.2 L1011.8,906.2 L1006.0,909.2 L1000.1,912.1 L994.2,914.9 L988.2,917.6 L982.3,920.3 L976.3,923.0 L970.3,925.5 L964.3,928.0 L958.3,930.5 L959.8,935.8 L966.0,934.0 L972.2,932.2 L978.3,930.2 L984.3,928.1 L990.4,925.9 L996.3,923.6 L1002.2,921.2 L1008.1,918.7 L1013.9,916.1 L1019.7,913.4 L1025.4,910.6 L1031.0,907.7 L1036.6,904.7 L1042.2,901.6 L1047.7,898.5 L1053.2,895.2 L1058.6,891.9 L1063.9,888.5 L1069.2,885.0 L1074.5,881.4 L1079.7,877.8 L1084.8,874.1 L1089.9,870.3 L1094.9,866.4 L1099.9,862.4 L1104.9,858.4 L1109.8,854.4 L1114.6,850.2 L1119.4,846.0 L1124.2,841.7 L1128.9,837.4 L1133.5,833.0 L1138.1,828.6 L1142.6,824.1 L1147.1,819.6 L1151.6,815.0 L1156.0,810.4 L1160.3,805.7 L1164.6,800.9 L1168.8,796.2 L1173.0,791.4 L1177.2,786.5 L1181.2,781.6 L1185.3,776.7 L1189.3,771.7 L1193.2,766.8 L1197.1,761.7 L1200.9,756.7 L1204.7,751.6Z" fill="url(#brfaint)" />
<path d="M1204.3,732.6 L1200.9,738.3 L1197.4,743.9 L1193.9,749.4 L1190.2,754.9 L1186.5,760.3 L1182.6,765.6 L1178.7,770.9 L1174.7,776.1 L1170.6,781.2 L1166.4,786.3 L1162.2,791.2 L1157.8,796.2 L1153.4,801.0 L1149.0,805.8 L1144.4,810.5 L1139.8,815.1 L1135.1,819.7 L1130.3,824.2 L1125.5,828.6 L1120.6,833.0 L1115.6,837.3 L1110.6,841.5 L1105.6,845.7 L1100.4,849.8 L1095.2,853.8 L1090.0,857.8 L1084.7,861.7 L1079.4,865.5 L1074.0,869.3 L1068.5,873.0 L1063.0,876.6 L1057.5,880.1 L1051.9,883.6 L1046.3,887.1 L1040.6,890.4 L1034.9,893.7 L1029.2,896.9 L1023.5,900.1 L1017.7,903.2 L1011.8,906.2 L1006.0,909.2 L1000.1,912.1 L994.2,914.9 L988.2,917.6 L982.3,920.3 L976.3,923.0 L970.3,925.5 L964.3,928.0 L958.3,930.5" fill="none" stroke="#9a6410" stroke-width="1.2" opacity="0.8"/>
<path d="M1205.0,780.0 L1201.2,784.7 L1197.3,789.5 L1193.4,794.2 L1189.4,798.8 L1185.3,803.5 L1181.3,808.1 L1177.2,812.8 L1173.0,817.3 L1168.8,821.9 L1164.5,826.4 L1160.2,830.9 L1155.9,835.3 L1151.5,839.7 L1147.0,844.1 L1142.6,848.4 L1138.0,852.7 L1133.5,856.9 L1128.8,861.1 L1124.2,865.2 L1119.4,869.3 L1114.7,873.3 L1109.9,877.3 L1105.0,881.1 L1100.1,885.0 L1095.2,888.7 L1090.2,892.4 L1085.1,896.0 L1080.0,899.5 L1074.9,903.0 L1069.7,906.4 L1064.5,909.7 L1059.2,912.9 L1053.9,916.0 L1048.5,919.1 L1043.1,922.0 L1037.6,924.9 L1032.1,927.6 L1026.5,930.3 L1020.9,932.8 L1015.2,935.3 L1009.5,937.7 L1003.7,939.9 L997.9,942.0 L992.1,944.1 L986.2,946.0 L980.2,947.8 L974.2,949.5 L968.1,951.0 L962.0,952.4 L990.2,963.4 L995.4,962.1 L1000.6,960.7 L1005.8,959.2 L1011.0,957.6 L1016.1,955.9 L1021.1,954.1 L1026.2,952.3 L1031.2,950.3 L1036.1,948.3 L1041.1,946.2 L1046.0,944.0 L1050.8,941.7 L1055.7,939.3 L1060.5,936.9 L1065.2,934.4 L1069.9,931.8 L1074.6,929.2 L1079.3,926.4 L1083.9,923.7 L1088.4,920.8 L1093.0,917.9 L1097.5,914.9 L1102.0,911.9 L1106.4,908.8 L1110.8,905.7 L1115.1,902.5 L1119.5,899.2 L1123.8,895.9 L1128.0,892.5 L1132.2,889.1 L1136.4,885.7 L1140.5,882.2 L1144.7,878.7 L1148.7,875.1 L1152.8,871.5 L1156.8,867.8 L1160.7,864.2 L1164.6,860.4 L1168.5,856.7 L1172.4,852.9 L1176.2,849.1 L1180.0,845.3 L1183.7,841.4 L1187.4,837.6 L1191.1,833.7 L1194.7,829.7 L1198.3,825.8 L1201.9,821.9 L1205.4,817.9Z" fill="url(#brdark)" />
<path d="M1204.7,751.6 L1200.9,756.7 L1197.1,761.7 L1193.2,766.8 L1189.3,771.7 L1185.3,776.7 L1181.2,781.6 L1177.2,786.5 L1173.0,791.4 L1168.8,796.2 L1164.6,800.9 L1160.3,805.7 L1156.0,810.4 L1151.6,815.0 L1147.1,819.6 L1142.6,824.1 L1138.1,828.6 L1133.5,833.0 L1128.9,837.4 L1124.2,841.7 L1119.4,846.0 L1114.6,850.2 L1109.8,854.4 L1104.9,858.4 L1099.9,862.4 L1094.9,866.4 L1089.9,870.3 L1084.8,874.1 L1079.7,877.8 L1074.5,881.4 L1069.2,885.0 L1063.9,888.5 L1058.6,891.9 L1053.2,895.2 L1047.7,898.5 L1042.2,901.6 L1036.6,904.7 L1031.0,907.7 L1025.4,910.6 L1019.7,913.4 L1013.9,916.1 L1008.1,918.7 L1002.2,921.2 L996.3,923.6 L990.4,925.9 L984.3,928.1 L978.3,930.2 L972.2,932.2 L966.0,934.0 L959.8,935.8 L962.0,952.4 L968.1,951.0 L974.2,949.5 L980.2,947.8 L986.2,946.0 L992.1,944.1 L997.9,942.0 L1003.7,939.9 L1009.5,937.7 L1015.2,935.3 L1020.9,932.8 L1026.5,930.3 L1032.1,927.6 L1037.6,924.9 L1043.1,922.0 L1048.5,919.1 L1053.9,916.0 L1059.2,912.9 L1064.5,909.7 L1069.7,906.4 L1074.9,903.0 L1080.0,899.5 L1085.1,896.0 L1090.2,892.4 L1095.2,888.7 L1100.1,885.0 L1105.0,881.1 L1109.9,877.3 L1114.7,873.3 L1119.4,869.3 L1124.2,865.2 L1128.8,861.1 L1133.5,856.9 L1138.0,852.7 L1142.6,848.4 L1147.0,844.1 L1151.5,839.7 L1155.9,835.3 L1160.2,830.9 L1164.5,826.4 L1168.8,821.9 L1173.0,817.3 L1177.2,812.8 L1181.3,808.1 L1185.3,803.5 L1189.4,798.8 L1193.4,794.2 L1197.3,789.5 L1201.2,784.7 L1205.0,780.0Z" fill="url(#brmain)" />
<path d="M1204.8,753.9 L1201.0,758.9 L1197.1,764.0 L1193.2,768.9 L1189.3,773.9 L1185.3,778.8 L1181.2,783.7 L1177.2,788.6 L1173.0,793.4 L1168.8,798.2 L1164.6,803.0 L1160.3,807.7 L1155.9,812.4 L1151.6,817.0 L1147.1,821.5 L1142.6,826.1 L1138.1,830.5 L1133.5,835.0 L1128.9,839.3 L1124.2,843.6 L1119.4,847.9 L1114.6,852.1 L1109.8,856.2 L1104.9,860.2 L1100.0,864.2 L1095.0,868.2 L1089.9,872.0 L1084.8,875.8 L1079.7,879.5 L1074.5,883.2 L1069.2,886.7 L1064.0,890.2 L1058.6,893.6 L1053.2,896.9 L1047.8,900.1 L1042.3,903.3 L1036.7,906.3 L1031.1,909.3 L1025.5,912.2 L1019.8,914.9 L1014.0,917.6 L1008.2,920.2 L1002.4,922.7 L996.5,925.1 L990.5,927.4 L984.5,929.5 L978.4,931.6 L972.3,933.6 L966.2,935.4 L959.9,937.1 L960.9,944.1 L967.1,942.5 L973.2,940.8 L979.2,939.0 L985.2,937.0 L991.2,935.0 L997.1,932.8 L1003.0,930.6 L1008.8,928.2 L1014.6,925.7 L1020.3,923.1 L1025.9,920.4 L1031.6,917.7 L1037.1,914.8 L1042.6,911.8 L1048.1,908.8 L1053.5,905.6 L1058.9,902.4 L1064.2,899.1 L1069.5,895.7 L1074.7,892.2 L1079.8,888.7 L1085.0,885.0 L1090.0,881.3 L1095.1,877.5 L1100.0,873.7 L1105.0,869.8 L1109.8,865.8 L1114.7,861.8 L1119.4,857.7 L1124.2,853.5 L1128.8,849.3 L1133.5,845.0 L1138.1,840.7 L1142.6,836.3 L1147.1,831.9 L1151.5,827.4 L1155.9,822.8 L1160.3,818.3 L1164.6,813.7 L1168.8,809.0 L1173.0,804.3 L1177.2,799.6 L1181.3,794.9 L1185.3,790.1 L1189.3,785.3 L1193.3,780.5 L1197.2,775.6 L1201.1,770.7 L1204.9,765.8Z" fill="url(#brhi)" filter="url(#bl2)"/>
<path d="M1204.7,751.6 L1200.9,756.7 L1197.1,761.7 L1193.2,766.8 L1189.3,771.7 L1185.3,776.7 L1181.2,781.6 L1177.2,786.5 L1173.0,791.4 L1168.8,796.2 L1164.6,800.9 L1160.3,805.7 L1156.0,810.4 L1151.6,815.0 L1147.1,819.6 L1142.6,824.1 L1138.1,828.6 L1133.5,833.0 L1128.9,837.4 L1124.2,841.7 L1119.4,846.0 L1114.6,850.2 L1109.8,854.4 L1104.9,858.4 L1099.9,862.4 L1094.9,866.4 L1089.9,870.3 L1084.8,874.1 L1079.7,877.8 L1074.5,881.4 L1069.2,885.0 L1063.9,888.5 L1058.6,891.9 L1053.2,895.2 L1047.7,898.5 L1042.2,901.6 L1036.6,904.7 L1031.0,907.7 L1025.4,910.6 L1019.7,913.4 L1013.9,916.1 L1008.1,918.7 L1002.2,921.2 L996.3,923.6 L990.4,925.9 L984.3,928.1 L978.3,930.2 L972.2,932.2 L966.0,934.0 L959.8,935.8" fill="none" stroke="url(#brline)" stroke-width="1.4" />
<path d="M1205.0,780.0 L1201.2,784.7 L1197.3,789.5 L1193.4,794.2 L1189.4,798.8 L1185.3,803.5 L1181.3,808.1 L1177.2,812.8 L1173.0,817.3 L1168.8,821.9 L1164.5,826.4 L1160.2,830.9 L1155.9,835.3 L1151.5,839.7 L1147.0,844.1 L1142.6,848.4 L1138.0,852.7 L1133.5,856.9 L1128.8,861.1 L1124.2,865.2 L1119.4,869.3 L1114.7,873.3 L1109.9,877.3 L1105.0,881.1 L1100.1,885.0 L1095.2,888.7 L1090.2,892.4 L1085.1,896.0 L1080.0,899.5 L1074.9,903.0 L1069.7,906.4 L1064.5,909.7 L1059.2,912.9 L1053.9,916.0 L1048.5,919.1 L1043.1,922.0 L1037.6,924.9 L1032.1,927.6 L1026.5,930.3 L1020.9,932.8 L1015.2,935.3 L1009.5,937.7 L1003.7,939.9 L997.9,942.0 L992.1,944.1 L986.2,946.0 L980.2,947.8 L974.2,949.5 L968.1,951.0 L962.0,952.4" fill="none" stroke="#f7c455" stroke-width="1.0" opacity="0.7"/>
<path d="M1205.4,817.9 L1201.9,821.9 L1198.3,825.8 L1194.7,829.7 L1191.1,833.7 L1187.4,837.6 L1183.7,841.4 L1180.0,845.3 L1176.2,849.1 L1172.4,852.9 L1168.5,856.7 L1164.6,860.4 L1160.7,864.2 L1156.8,867.8 L1152.8,871.5 L1148.7,875.1 L1144.7,878.7 L1140.5,882.2 L1136.4,885.7 L1132.2,889.1 L1128.0,892.5 L1123.8,895.9 L1119.5,899.2 L1115.1,902.5 L1110.8,905.7 L1106.4,908.8 L1102.0,911.9 L1097.5,914.9 L1093.0,917.9 L1088.4,920.8 L1083.9,923.7 L1079.3,926.4 L1074.6,929.2 L1069.9,931.8 L1065.2,934.4 L1060.5,936.9 L1055.7,939.3 L1050.8,941.7 L1046.0,944.0 L1041.1,946.2 L1036.1,948.3 L1031.2,950.3 L1026.2,952.3 L1021.1,954.1 L1016.1,955.9 L1011.0,957.6 L1005.8,959.2 L1000.6,960.7 L995.4,962.1 L990.2,963.4" fill="none" stroke="#d8921c" stroke-width="1.4" />
</g>
<g id="title">
<text font-weight="bold" x="234.40" y="75.10" font-size="43.31" fill="#ececec" stroke="#ececec" stroke-width="2.20" stroke-linejoin="round" textLength="726.22" lengthAdjust="spacingAndGlyphs" >MODIFICACIÓN DE DESCUENTOS EN</text>
<text font-weight="bold" x="139.06" y="136.10" font-size="63.08" fill="#f2a81d" stroke="#f2a81d" stroke-width="3.40" stroke-linejoin="round" textLength="930.60" lengthAdjust="spacingAndGlyphs" >PENSIONES PARA PERSONAL PNP</text>
<text font-weight="bold" x="274.06" y="187.50" font-size="45.78" fill="#ececec" textLength="666.88" lengthAdjust="spacingAndGlyphs" >(EGRESADOS DICIEMBRE DE 2012)</text>
</g>
<g id="table">
<rect x="82" y="213" width="1037" height="631" fill="#020202"/>
<rect x="82" y="213" width="1037" height="84.5" fill="url(#hdr)"/>
<rect x="646.5" y="213" width="3.5" height="84.5" fill="#0a0500"/>
<rect x="82" y="368.4" width="1037" height="1.3" fill="url(#ln)"/>
<rect x="82" y="435.9" width="1037" height="1.3" fill="url(#ln)"/>
<rect x="82" y="503.4" width="1037" height="1.3" fill="url(#ln)"/>
<rect x="82" y="570.4" width="1037" height="1.3" fill="url(#ln)"/>
<rect x="82" y="636.9" width="1037" height="1.3" fill="url(#ln)"/>
<rect x="82" y="704.4" width="1037" height="1.3" fill="url(#ln)"/>
<rect x="82" y="773.4" width="1037" height="1.3" fill="url(#ln)"/>
<rect x="82" y="843" width="1037" height="2" fill="url(#ln)"/>
<rect x="82" y="296.5" width="1037" height="2" fill="#e9a21f"/>
<rect x="81.2" y="213" width="1.7" height="632" fill="#dc9c22"/>
<rect x="1118" y="213" width="2" height="632" fill="#d3981e"/>
<rect x="647" y="297" width="2" height="547" fill="#d9971f"/>
<text font-weight="bold" x="261.82" y="276.80" font-size="62.50" fill="#0b0703" stroke="#0b0703" stroke-width="3.00" stroke-linejoin="round" textLength="197.40" lengthAdjust="spacingAndGlyphs" >GRADO</text>
<text font-weight="bold" x="713.78" y="251.70" font-size="23.26" fill="#0b0703" stroke="#0b0703" stroke-width="1.00" stroke-linejoin="round" textLength="348.38" lengthAdjust="spacingAndGlyphs" >(15% DE LA REMUNERACIÓN</text>
<text font-weight="bold" x="798.21" y="280.70" font-size="23.26" fill="#0b0703" stroke="#0b0703" stroke-width="1.00" stroke-linejoin="round" textLength="187.49" lengthAdjust="spacingAndGlyphs" >CONSOLIDADA)</text>
<text font-weight="bold" x="222.80" y="343.90" font-size="30.52" fill="#ededed" stroke="#ededed" stroke-width="1.20" stroke-linejoin="round" textLength="274.44" lengthAdjust="spacingAndGlyphs" >TENIENTE GENERAL</text>
<text font-weight="bold" x="294.51" y="413.40" font-size="30.52" fill="#ededed" stroke="#ededed" stroke-width="1.20" stroke-linejoin="round" textLength="129.70" lengthAdjust="spacingAndGlyphs" >GENERAL</text>
<text font-weight="bold" x="292.00" y="480.90" font-size="30.52" fill="#ededed" stroke="#ededed" stroke-width="1.20" stroke-linejoin="round" textLength="134.23" lengthAdjust="spacingAndGlyphs" >CORONEL</text>
<text font-weight="bold" x="260.98" y="549.40" font-size="30.52" fill="#ededed" stroke="#ededed" stroke-width="1.20" stroke-linejoin="round" textLength="198.00" lengthAdjust="spacingAndGlyphs" >COMANDANTE</text>
<text font-weight="bold" x="309.83" y="616.90" font-size="30.52" fill="#ededed" stroke="#ededed" stroke-width="1.20" stroke-linejoin="round" textLength="98.62" lengthAdjust="spacingAndGlyphs" >MAYOR</text>
<text font-weight="bold" x="299.49" y="684.40" font-size="30.52" fill="#ededed" stroke="#ededed" stroke-width="1.20" stroke-linejoin="round" textLength="120.74" lengthAdjust="spacingAndGlyphs" >CAPITÁN</text>
<text font-weight="bold" x="293.80" y="751.90" font-size="30.52" fill="#ededed" stroke="#ededed" stroke-width="1.20" stroke-linejoin="round" textLength="133.15" lengthAdjust="spacingAndGlyphs" >TENIENTE</text>
<text font-weight="bold" x="298.95" y="820.40" font-size="30.52" fill="#ededed" stroke="#ededed" stroke-width="1.20" stroke-linejoin="round" textLength="121.21" lengthAdjust="spacingAndGlyphs" >ALFEREZ</text>
<text font-weight="bold" x="796.09" y="345.90" font-size="34.59" fill="#f3ab24" stroke="#f3ab24" stroke-width="1.40" stroke-linejoin="round" textLength="178.91" lengthAdjust="spacingAndGlyphs" >S/ 1.748.89</text>
<text font-weight="bold" x="797.70" y="415.00" font-size="34.59" fill="#f3ab24" stroke="#f3ab24" stroke-width="1.40" stroke-linejoin="round" textLength="177.28" lengthAdjust="spacingAndGlyphs" >S/ 1.706.04</text>
<text font-weight="bold" x="797.71" y="482.30" font-size="34.59" fill="#f3ab24" stroke="#f3ab24" stroke-width="1.40" stroke-linejoin="round" textLength="175.54" lengthAdjust="spacingAndGlyphs" >S/ 1.409.61</text>
<text font-weight="bold" x="806.62" y="550.90" font-size="34.59" fill="#f3ab24" stroke="#f3ab24" stroke-width="1.40" stroke-linejoin="round" textLength="160.32" lengthAdjust="spacingAndGlyphs" >S/ 872.87</text>
<text font-weight="bold" x="802.98" y="617.30" font-size="34.59" fill="#f3ab24" stroke="#f3ab24" stroke-width="1.40" stroke-linejoin="round" textLength="166.52" lengthAdjust="spacingAndGlyphs" >S/ 663.88</text>
<text font-weight="bold" x="804.10" y="685.70" font-size="34.59" fill="#f3ab24" stroke="#f3ab24" stroke-width="1.40" stroke-linejoin="round" textLength="163.78" lengthAdjust="spacingAndGlyphs" >S/ 551.78</text>
<text font-weight="bold" x="804.09" y="754.30" font-size="34.59" fill="#f3ab24" stroke="#f3ab24" stroke-width="1.40" stroke-linejoin="round" textLength="165.61" lengthAdjust="spacingAndGlyphs" >S/ 460.66</text>
<text font-weight="bold" x="804.10" y="822.30" font-size="34.59" fill="#f3ab24" stroke="#f3ab24" stroke-width="1.40" stroke-linejoin="round" textLength="164.14" lengthAdjust="spacingAndGlyphs" >S/ 449.82</text>
</g>
<g id="footer">
<rect x="222" y="959.5" width="978" height="10.5" fill="#0b3138"/>
<path d="M0,969.5 H1200 V1021 H0 Z" fill="#ffffff"/>
<path d="M0,755 L232.8,859.1 L212.7,907.4 L242.5,919.5 L224.5,970 L0,970 Z" fill="#ffffff"/>
<rect x="0" y="1021" width="1200" height="36" fill="#0b3138"/>
<text font-weight="bold" x="230.79" y="1009.75" font-size="35.32" fill="#0e3a44" stroke="#0e3a44" stroke-width="0.90" stroke-linejoin="round" textLength="525.06" lengthAdjust="spacingAndGlyphs" >Instituto de Defensa Legal Policial</text>
<text font-weight="bold" x="896.83" y="1006.05" font-size="27.40" fill="#0c2f39" stroke="#0c2f39" stroke-width="0.30" stroke-linejoin="round" textLength="287.75" lengthAdjust="spacingAndGlyphs" >962326578 - 932594355</text>
<text font-weight="bold" x="354.01" y="1048.80" font-size="26.00" fill="#ffffff" textLength="500.73" lengthAdjust="spacingAndGlyphs" >"10 años de experiencia nos respaldan"</text>
<g fill="none" stroke-linecap="round" stroke-linejoin="round">
<path id="wab" d="M842.8,1013 L846,1004.6 A16.4,16.4 0 1 1 851.6,1010.3 Z" stroke="#12887f" stroke-width="4"/>
<path d="M842.8,1013 L846,1004.6 A16.4,16.4 0 1 1 851.6,1010.3 Z" stroke="#8aeee6" stroke-width="1.7"/>
<path d="M853.8,988.4 C852.8,992 856,998.3 859.6,1000.8 C862.5,1003 865.3,1003.4 867.4,1002.2" stroke="#12887f" stroke-width="4.6"/>
<path d="M853.8,988.4 C852.8,992 856,998.3 859.6,1000.8 C862.5,1003 865.3,1003.4 867.4,1002.2" stroke="#8aeee6" stroke-width="2"/>
</g>
</g>
<g id="logo">
<path d="M31.0,875.0 L31.0,878.1 L31.1,881.2 L31.3,884.2 L31.5,887.3 L31.8,890.4 L32.2,893.4 L32.7,896.5 L33.3,899.5 L34.0,902.5 L34.8,905.5 L35.7,908.5 L36.7,911.4 L37.8,914.2 L39.1,917.1 L40.4,919.9 L41.7,922.6 L43.2,925.4 L44.7,928.1 L46.3,930.7 L48.0,933.3 L49.8,935.8 L51.7,938.2 L53.6,940.6 L55.7,942.9 L57.8,945.1 L60.0,947.3 L62.3,949.4 L64.7,951.4 L67.0,953.4 L69.5,955.3 L71.9,957.1 L74.4,959.0 L76.9,960.7 L79.5,962.4 L82.1,964.0 L84.8,965.6 L87.5,967.0 L90.3,968.3 L93.2,969.6 L96.0,970.7 L98.9,971.7 L101.9,972.7 L104.8,973.7 L107.7,974.8 L110.5,975.9 L113.3,977.3 L116.0,978.7 L118.5,980.5 L121.0,982.5" fill="none" stroke="#0a3039" stroke-width="2.4" stroke-linecap="round"/><path d="M31.0,875.0 C26.9,870.7 29.0,864.0 32.6,862.6 C35.8,864.9 36.1,871.9 31.0,875.0ZM31.1,882.0 C25.3,883.2 21.2,877.9 22.1,874.1 C25.8,872.6 31.6,876.0 31.1,882.0ZM31.4,886.5 C30.2,880.8 35.2,877.2 38.9,878.4 C40.4,882.0 37.2,887.3 31.4,886.5ZM32.6,896.0 C26.9,897.9 22.2,893.1 22.7,889.1 C26.2,887.3 32.4,890.0 32.6,896.0ZM33.5,900.4 C31.5,894.9 36.2,890.8 40.0,891.5 C41.8,895.0 39.3,900.6 33.5,900.4ZM36.1,909.6 C30.8,912.4 25.3,908.5 25.2,904.5 C28.3,902.1 34.8,903.7 36.1,909.6ZM37.7,913.8 C34.8,908.7 38.7,903.8 42.6,903.9 C45.0,907.0 43.4,913.0 37.7,913.8ZM41.6,922.5 C36.8,926.0 30.9,922.8 30.2,918.9 C32.9,916.1 39.6,916.8 41.6,922.5ZM43.8,926.4 C40.3,921.8 43.5,916.5 47.3,916.0 C50.1,918.7 49.4,924.9 43.8,926.4ZM48.9,934.5 C44.6,938.7 38.3,936.4 37.0,932.7 C39.3,929.5 46.1,929.2 48.9,934.5ZM51.6,938.1 C47.5,934.0 49.8,928.3 53.6,927.3 C56.7,929.6 56.9,935.7 51.6,938.1ZM57.9,945.3 C54.4,950.1 47.8,948.9 45.9,945.4 C47.7,941.9 54.3,940.5 57.9,945.3ZM61.2,948.4 C56.4,945.0 57.8,939.0 61.4,937.4 C64.9,939.1 66.0,945.1 61.2,948.4ZM68.5,954.5 C65.6,959.7 58.8,959.3 56.6,956.1 C57.9,952.4 64.3,950.2 68.5,954.5ZM72.1,957.3 C67.0,954.5 67.6,948.3 70.9,946.3 C74.6,947.6 76.5,953.5 72.1,957.3ZM79.9,962.7 C77.6,968.2 70.8,968.5 68.3,965.5 C69.2,961.7 75.3,958.9 79.9,962.7ZM83.8,965.0 C78.4,962.8 78.4,956.6 81.5,954.2 C85.3,955.1 87.8,960.8 83.8,965.0ZM92.3,969.2 C90.9,975.1 84.3,976.4 81.3,973.9 C81.6,969.9 87.2,966.2 92.3,969.2ZM96.5,970.9 C90.9,969.5 89.9,963.4 92.6,960.6 C96.5,960.9 99.8,966.1 96.5,970.9Z" fill="#0a3039"/>
<g transform="translate(216.8,0) scale(-1,1)"><path d="M31.0,875.0 L31.0,878.1 L31.1,881.2 L31.3,884.2 L31.5,887.3 L31.8,890.4 L32.2,893.4 L32.7,896.5 L33.3,899.5 L34.0,902.5 L34.8,905.5 L35.7,908.5 L36.7,911.4 L37.8,914.2 L39.1,917.1 L40.4,919.9 L41.7,922.6 L43.2,925.4 L44.7,928.1 L46.3,930.7 L48.0,933.3 L49.8,935.8 L51.7,938.2 L53.6,940.6 L55.7,942.9 L57.8,945.1 L60.0,947.3 L62.3,949.4 L64.7,951.4 L67.0,953.4 L69.5,955.3 L71.9,957.1 L74.4,959.0 L76.9,960.7 L79.5,962.4 L82.1,964.0 L84.8,965.6 L87.5,967.0 L90.3,968.3 L93.2,969.6 L96.0,970.7 L98.9,971.7 L101.9,972.7 L104.8,973.7 L107.7,974.8 L110.5,975.9 L113.3,977.3 L116.0,978.7 L118.5,980.5 L121.0,982.5" fill="none" stroke="#0a3039" stroke-width="2.4" stroke-linecap="round"/><path d="M31.0,875.0 C26.9,870.7 29.0,864.0 32.6,862.6 C35.8,864.9 36.1,871.9 31.0,875.0ZM31.1,882.0 C25.3,883.2 21.2,877.9 22.1,874.1 C25.8,872.6 31.6,876.0 31.1,882.0ZM31.4,886.5 C30.2,880.8 35.2,877.2 38.9,878.4 C40.4,882.0 37.2,887.3 31.4,886.5ZM32.6,896.0 C26.9,897.9 22.2,893.1 22.7,889.1 C26.2,887.3 32.4,890.0 32.6,896.0ZM33.5,900.4 C31.5,894.9 36.2,890.8 40.0,891.5 C41.8,895.0 39.3,900.6 33.5,900.4ZM36.1,909.6 C30.8,912.4 25.3,908.5 25.2,904.5 C28.3,902.1 34.8,903.7 36.1,909.6ZM37.7,913.8 C34.8,908.7 38.7,903.8 42.6,903.9 C45.0,907.0 43.4,913.0 37.7,913.8ZM41.6,922.5 C36.8,926.0 30.9,922.8 30.2,918.9 C32.9,916.1 39.6,916.8 41.6,922.5ZM43.8,926.4 C40.3,921.8 43.5,916.5 47.3,916.0 C50.1,918.7 49.4,924.9 43.8,926.4ZM48.9,934.5 C44.6,938.7 38.3,936.4 37.0,932.7 C39.3,929.5 46.1,929.2 48.9,934.5ZM51.6,938.1 C47.5,934.0 49.8,928.3 53.6,927.3 C56.7,929.6 56.9,935.7 51.6,938.1ZM57.9,945.3 C54.4,950.1 47.8,948.9 45.9,945.4 C47.7,941.9 54.3,940.5 57.9,945.3ZM61.2,948.4 C56.4,945.0 57.8,939.0 61.4,937.4 C64.9,939.1 66.0,945.1 61.2,948.4ZM68.5,954.5 C65.6,959.7 58.8,959.3 56.6,956.1 C57.9,952.4 64.3,950.2 68.5,954.5ZM72.1,957.3 C67.0,954.5 67.6,948.3 70.9,946.3 C74.6,947.6 76.5,953.5 72.1,957.3ZM79.9,962.7 C77.6,968.2 70.8,968.5 68.3,965.5 C69.2,961.7 75.3,958.9 79.9,962.7ZM83.8,965.0 C78.4,962.8 78.4,956.6 81.5,954.2 C85.3,955.1 87.8,960.8 83.8,965.0ZM92.3,969.2 C90.9,975.1 84.3,976.4 81.3,973.9 C81.6,969.9 87.2,966.2 92.3,969.2ZM96.5,970.9 C90.9,969.5 89.9,963.4 92.6,960.6 C96.5,960.9 99.8,966.1 96.5,970.9Z" fill="#0a3039"/></g>
<path d="M71.8,867 C80,859 88,853 95.5,848.6 C101,844.5 107,840.5 113.2,838 C117.5,836.3 122,835.5 126.2,835.5 C131,835.5 135,836.4 138,838 C141.5,840 143.6,843 144.5,846.3 C145.2,848.6 145.4,851 145.1,853.4 C144.6,856.6 142,859.4 139.2,861.6 L136.2,865.6 C138.4,866.8 139.8,868.8 139.5,871.1 C139.2,873.6 138.4,875.6 136.8,877 C134,879.4 130,880.6 126.2,880.6 C120,880.7 114.5,879.4 109.6,878.2 C104.5,876.9 100,875.4 95.5,874.8 C91.5,874.3 87.5,875 84,874.2 C82.5,873.8 81.6,872.8 81.3,871.7 C78.8,871.4 76.4,870.6 74.2,869.5 C72.6,868.7 71.6,868 71.8,867 Z" fill="#0a3039"/>
<path d="M126.9,846.6 C128.6,848 130.6,848.8 132.8,849 C133.2,853.6 131.6,857.6 127,860.4 C122.4,857.6 120.8,853.6 121.2,849 C123.4,848.8 125.2,848 126.9,846.6 Z" fill="#ffffff"/>
<g fill="none" stroke="#0a3039" stroke-width="2.4" stroke-linejoin="round" stroke-linecap="butt">
<path d="M107.5,889.4 V903" stroke-width="2.6"/>
<path d="M89.6,903.4 H127.4" stroke-width="2.5"/>
<path d="M79.6,932.4 L91,903.8 L101.6,932.4"/>
<path d="M115.6,932.4 L126.2,903.8 L137.6,932.4"/>
</g>
<path d="M78.2,931.6 H103 C102.4,937.6 97.4,941.6 90.6,941.6 C83.8,941.6 78.8,937.6 78.2,931.6 Z" fill="#0a3039"/>
<path d="M114.2,931.6 H139 C138.4,937.6 133.4,941.6 126.6,941.6 C119.8,941.6 114.8,937.6 114.2,931.6 Z" fill="#0a3039"/>
<text class="b" font-weight="bold" x="29.4" y="1004.2" font-size="14.2" fill="#0a2a33" stroke="#0a2a33" stroke-width="0.9" textLength="155.6" lengthAdjust="spacing">WWW.IDLPOL.COM</text>
</g>
<g id="mascot">
<circle cx="808" cy="906" r="51.6" fill="#030303" stroke="#9a7030" stroke-width="1.1"/>
<circle cx="808" cy="906" r="48.6" fill="none" stroke="#7a5a2a" stroke-width="0.8"/>
<path d="M794.9,946.4 C793.5,948.8 790.4,948.9 788.8,947.9 C789.7,946.2 792.6,944.9 794.9,946.4ZM794.9,946.4 C792.1,946.3 790.6,943.6 790.8,941.7 C792.7,941.7 795.2,943.7 794.9,946.4ZM790.6,944.8 C789.0,947.0 785.8,946.8 784.4,945.6 C785.5,944.0 788.5,943.0 790.6,944.8ZM790.6,944.8 C787.9,944.4 786.6,941.5 787.1,939.6 C788.9,939.9 791.2,942.1 790.6,944.8ZM786.5,942.7 C784.7,944.7 781.6,944.2 780.3,942.8 C781.5,941.4 784.6,940.7 786.5,942.7ZM786.5,942.7 C783.9,942.0 782.9,938.9 783.6,937.2 C785.4,937.6 787.4,940.1 786.5,942.7ZM782.7,940.1 C780.6,941.9 777.6,941.1 776.5,939.6 C777.8,938.3 781.0,938.0 782.7,940.1ZM782.7,940.1 C780.1,939.1 779.5,936.0 780.3,934.4 C782.1,935.0 783.8,937.6 782.7,940.1ZM779.1,937.2 C776.9,938.8 774.0,937.6 773.0,936.0 C774.5,934.8 777.7,934.9 779.1,937.2ZM779.1,937.2 C776.7,935.9 776.4,932.8 777.4,931.2 C779.1,932.0 780.5,934.9 779.1,937.2ZM775.9,933.9 C773.5,935.2 770.8,933.7 770.0,932.0 C771.6,931.1 774.8,931.4 775.9,933.9ZM775.9,933.9 C773.6,932.4 773.7,929.2 774.9,927.8 C776.5,928.8 777.6,931.7 775.9,933.9ZM773.1,930.3 C770.6,931.3 768.0,929.5 767.4,927.8 C769.1,927.0 772.2,927.7 773.1,930.3ZM773.1,930.3 C771.0,928.5 771.4,925.4 772.7,924.1 C774.2,925.2 775.0,928.3 773.1,930.3ZM770.7,926.3 C768.1,927.2 765.7,925.1 765.3,923.3 C767.1,922.7 770.1,923.7 770.7,926.3ZM770.7,926.3 C768.8,924.4 769.5,921.3 771.0,920.2 C772.3,921.5 772.8,924.6 770.7,926.3ZM821.1,946.4 C820.8,943.7 823.3,941.7 825.2,941.7 C825.4,943.6 823.9,946.3 821.1,946.4ZM821.1,946.4 C823.4,944.9 826.3,946.2 827.2,947.9 C825.6,948.9 822.5,948.8 821.1,946.4ZM825.4,944.8 C824.8,942.1 827.1,939.9 828.9,939.6 C829.4,941.5 828.1,944.4 825.4,944.8ZM825.4,944.8 C827.5,943.0 830.5,944.0 831.6,945.6 C830.2,946.8 827.0,947.0 825.4,944.8ZM829.5,942.7 C828.6,940.1 830.6,937.6 832.4,937.2 C833.1,938.9 832.1,942.0 829.5,942.7ZM829.5,942.7 C831.4,940.7 834.5,941.4 835.7,942.8 C834.4,944.2 831.3,944.7 829.5,942.7ZM833.3,940.1 C832.2,937.6 833.9,935.0 835.7,934.4 C836.5,936.0 835.9,939.1 833.3,940.1ZM833.3,940.1 C835.0,938.0 838.2,938.3 839.5,939.6 C838.4,941.1 835.4,941.9 833.3,940.1ZM836.9,937.2 C835.5,934.9 836.9,932.0 838.6,931.2 C839.6,932.8 839.3,935.9 836.9,937.2ZM836.9,937.2 C838.3,934.9 841.5,934.8 843.0,936.0 C842.0,937.6 839.1,938.8 836.9,937.2ZM840.1,933.9 C838.4,931.7 839.5,928.8 841.1,927.8 C842.3,929.2 842.4,932.4 840.1,933.9ZM840.1,933.9 C841.2,931.4 844.4,931.1 846.0,932.0 C845.2,933.7 842.5,935.2 840.1,933.9ZM842.9,930.3 C841.0,928.3 841.8,925.2 843.3,924.1 C844.6,925.4 845.0,928.5 842.9,930.3ZM842.9,930.3 C843.8,927.7 846.9,927.0 848.6,927.8 C848.0,929.5 845.4,931.3 842.9,930.3ZM845.3,926.3 C843.2,924.6 843.7,921.5 845.0,920.2 C846.5,921.3 847.2,924.4 845.3,926.3ZM845.3,926.3 C845.9,923.7 848.9,922.7 850.7,923.3 C850.3,925.1 847.9,927.2 845.3,926.3Z" fill="#dba23a"/>
<path d="M808.0,947.8 L808.7,949.6 L810.7,949.7 L809.1,951.0 L809.6,952.9 L808.0,951.8 L806.4,952.9 L806.9,951.0 L805.3,949.7 L807.3,949.6Z" fill="#dba23a"/>
<path d="M801,951 H789 M815,951 H827" stroke="#b98a30" stroke-width="0.8"/>
<!-- ears -->
<ellipse cx="778.6" cy="918.5" rx="4.6" ry="6.2" fill="#f0a174"/>
<ellipse cx="838.4" cy="918.5" rx="4.6" ry="6.2" fill="#f0a174"/>
<ellipse cx="779.4" cy="919" rx="2.2" ry="3.4" fill="#d9824f"/>
<ellipse cx="837.6" cy="919" rx="2.2" ry="3.4" fill="#d9824f"/>
<!-- hair -->
<path d="M780,914 C778,902 784,894 808,893 C832,894 839,902 836.5,914 L833,904 H783 Z" fill="#3b1d10"/>
<!-- face -->
<path d="M783,908 C783,899 790,896 808,896 C826,896 833.5,899 833.5,908 C834,919 832,929 824,936 C818,941 813,942.4 808.3,942.4 C803.6,942.4 798.6,941 792.6,936 C784.6,929 782.6,919 783,908 Z" fill="#f6b085"/>
<path d="M786,925 C789,934 797,941 808.3,941.6 C819.6,941 827.6,934 830.6,925 C827,937 817,944 808.3,944 C799.6,944 789.6,937 786,925 Z" fill="#e28d5d" opacity="0.7"/>
<!-- brows -->
<path d="M789,906.5 C792,903.4 798,903 802,905" fill="none" stroke="#2e160c" stroke-width="2" stroke-linecap="round"/>
<path d="M814.5,905 C818.5,903 824.5,903.4 827.5,906.5" fill="none" stroke="#2e160c" stroke-width="2" stroke-linecap="round"/>
<!-- eyes -->
<ellipse cx="796" cy="914.2" rx="5.4" ry="5.6" fill="#fff6ee"/>
<ellipse cx="820.6" cy="914.2" rx="5.4" ry="5.6" fill="#fff6ee"/>
<ellipse cx="796.8" cy="914.6" rx="4" ry="4.6" fill="#5a2c18"/>
<ellipse cx="819.8" cy="914.6" rx="4" ry="4.6" fill="#5a2c18"/>
<circle cx="796.8" cy="915" r="2.2" fill="#24100a"/>
<circle cx="819.8" cy="915" r="2.2" fill="#24100a"/>
<circle cx="798.2" cy="912.6" r="1.2" fill="#ffffff"/>
<circle cx="821.2" cy="912.6" r="1.2" fill="#ffffff"/>
<!-- nose, mouth -->
<path d="M806.4,922.4 C807.4,923.4 809.2,923.4 810.2,922.4" fill="none" stroke="#d77f50" stroke-width="1.2" stroke-linecap="round"/>
<path d="M800.6,929 C804.6,932 812,932 816,929" fill="none" stroke="#b3542e" stroke-width="1.3" stroke-linecap="round"/>
<!-- cap -->
<path d="M776.2,905.5 C773.5,893 776,879 786,870.5 C793,864.6 801,863 808,863 C815,863 823.4,864.6 830.6,870.5 C840,878.4 842,892 840.4,903.6 C838.6,905 837,905.4 835.6,905 C828,897.4 819,894.6 808,894.6 C797,894.6 788,898.4 781,906.6 C779.4,907.2 777.6,906.8 776.2,905.5 Z" fill="#0c4638"/>
<path d="M778,896 C787,888.6 797,886.6 808,886.6 C819,886.6 830,888.6 838.6,895.4 L840.4,903.6 C838.6,905 837,905.4 835.6,905 C828,897.4 819,894.6 808,894.6 C797,894.6 788,898.4 781,906.6 C779.4,907.2 777.6,906.8 776.2,905.5 Z" fill="#0a3b30"/>
<path d="M780,884 C782,876 788,869.6 796,866" fill="none" stroke="#166350" stroke-width="2.4" stroke-linecap="round" opacity="0.7"/>
<g fill="none" stroke="#dfe9df" stroke-width="0.8"><path d="M801,867.4 C802,871.6 809.6,871.6 811,867.4"/><path d="M805.4,866 l1,-1.6 l1.2,1.4"/></g>
<path id="capArc" d="M785,887.2 C797,882.2 819,881.6 831.4,885.8" fill="none"/>
<text font-size="13" font-weight="bold" fill="#d9d838" stroke="#d9d838" stroke-width="0.35"><textPath href="#capArc" textLength="46.4" lengthAdjust="spacingAndGlyphs">IDL-POL</textPath></text>
<text x="0" y="0" font-size="4.2" font-weight="bold" fill="#e8efe8" transform="translate(824.6,893.2) rotate(32)">APP</text>
</g>
<g id="badges">
<g>
<rect x="861.8" y="929.8" width="104.4" height="29.8" rx="3.4" fill="#ffffff" stroke="#c9c9c9" stroke-width="0.8"/>
<g transform="translate(868.2,934.6)">
<path d="M0.6,0.4 C0.2,0.8 0,1.4 0,2.2 V18.6 C0,19.4 0.2,20 0.6,20.4 L10.2,10.6 V10.2 Z" fill="#2aa6f0"/>
<path d="M13.4,13.8 L10.2,10.6 V10.2 L13.4,7 L17.4,9.2 C18.6,9.9 18.6,10.9 17.4,11.6 Z" fill="#fbc11c"/>
<path d="M13.4,13.8 L10.2,10.4 L0.6,20.4 C1,20.8 1.7,20.9 2.5,20.4 Z" fill="#e8404a"/>
<path d="M13.4,7 L2.5,0.4 C1.7,-0.1 1,0 0.6,0.4 L10.2,10.4 Z" fill="#33b36b"/>
</g>
<text x="892.4" y="939.4" font-size="5.9" fill="#5a5a5a" stroke="#5a5a5a" stroke-width="0.2" textLength="46.8" lengthAdjust="spacingAndGlyphs">DISPONIBLE EN</text>
<text x="892.2" y="952.6" font-size="14.2" fill="#3f3f3f" stroke="#3f3f3f" stroke-width="0.45" textLength="67.4" lengthAdjust="spacingAndGlyphs">Google Play</text>
</g>
<g>
<rect x="975.6" y="929.6" width="104" height="30.2" rx="3.6" fill="#ffffff" stroke="#c9c9c9" stroke-width="0.8"/>
<g transform="translate(986,935.2) scale(0.0365)" fill="#1c1c1c">
<path d="M318.7 268.7c-.2-36.700 16.400-64.400 50-84.800-18.800-26.900-47.200-41.700-84.700-44.600-35.500-2.800-74.300 20.700-88.500 20.700-15 0-49.400-19.700-76.400-19.700C63.300 141.200 4 184.800 4 273.500q0 39.300 14.400 81.200c12.800 36.700 59 126.700 107.200 125.200 25.200-.6 43-17.900 75.800-17.900 31.800 0 48.300 17.900 76.400 17.900 48.600-.7 90.400-82.500 102.600-119.300-65.200-30.700-61.700-90-61.700-91.900zm-56.600-164.200c27.300-32.400 24.800-61.900 24-72.500-24.100 1.400-52 16.400-67.900 34.900-17.500 19.800-27.800 44.300-25.600 71.900 26.100 2 49.900-11.400 69.500-34.300z"/>
</g>
<text class="b" font-weight="bold" x="1005.6" y="940.2" font-size="6" fill="#2a2a2a" textLength="55.4" lengthAdjust="spacingAndGlyphs">Consíguelo en el</text>
<text class="b" font-weight="bold" x="1005.4" y="953.2" font-size="14.2" fill="#222222" textLength="59.6" lengthAdjust="spacingAndGlyphs">App Store</text>
</g>
<g>
<rect x="1088.2" y="929.4" width="108.6" height="30.6" rx="3.8" fill="#ffffff" stroke="#c9c9c9" stroke-width="0.8"/>
<rect x="1094.8" y="934" width="20.4" height="20.8" rx="4.6" fill="#e9132c"/>
<path d="M1101.4,938.4 C1102.6,942.4 1107.4,942.4 1108.6,938.4" fill="none" stroke="#ffd9dc" stroke-width="0.9" stroke-linecap="round"/>
<text x="1098.2" y="947.6" font-size="3.6" font-weight="bold" fill="#ffd3d7" textLength="13.6" lengthAdjust="spacingAndGlyphs">HUAWEI</text>
<text x="1121.4" y="939.5" font-size="6" fill="#3a3a3a" stroke="#3a3a3a" stroke-width="0.3" textLength="50.4" lengthAdjust="spacingAndGlyphs">EXPLÓRALO EN</text>
<text x="1121.6" y="951.9" font-size="13.4" fill="#222222" stroke="#222222" stroke-width="0.45" textLength="67.4" lengthAdjust="spacingAndGlyphs">AppGallery</text>
</g>
</g>
</svg>
</body>
</html>
